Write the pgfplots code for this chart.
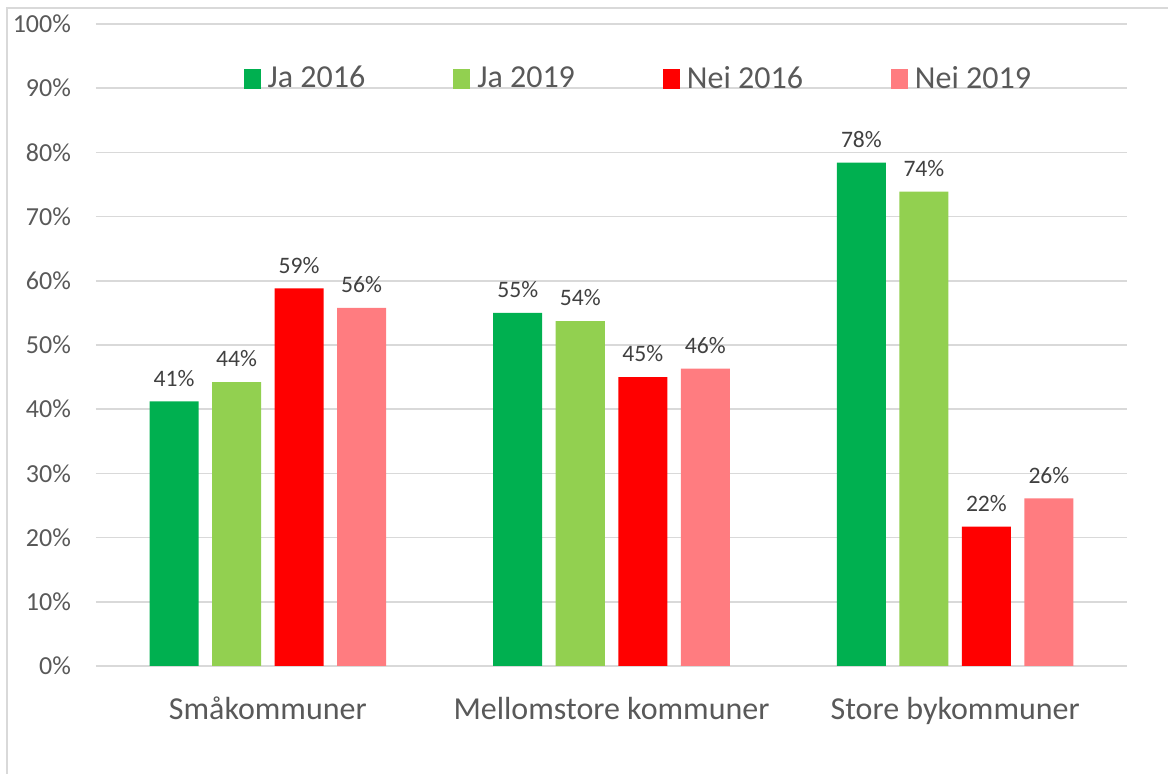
\documentclass[border=0pt]{standalone}
\usepackage{pgfplots}
\pgfplotsset{compat=1.18}
\usepackage{fontspec}
\setmainfont{Carlito}
\definecolor{gA}{HTML}{00B050}
\definecolor{gB}{HTML}{92D050}
\definecolor{rA}{HTML}{FF0000}
\definecolor{rB}{HTML}{FF7C80}
\definecolor{txt}{HTML}{595959}
\definecolor{lbl}{HTML}{404040}
\definecolor{grd}{HTML}{D9D9D9}
\begin{document}
\begin{tikzpicture}
\useasboundingbox (-48pt,-54pt) rectangle (536pt,333pt);
\draw[grd, line width=0.75pt] (-44.5pt,-60pt) -- (-44.5pt,329pt) -- (540pt,329pt);
\begin{axis}[
  at={(0,0)}, anchor=south west,
  scale only axis,
  width=515.5pt, height=321pt,
  ybar=6.75pt, bar width=24.5pt,
  xmin=-0.5, xmax=2.5,
  ymin=0, ymax=100,
  ytick={0,10,...,100},
  yticklabel={\pgfmathprintnumber{\tick}\%},
  /pgf/number format/assume math mode=true,
  xtick={0,1,2},
  xticklabels={Småkommuner, Mellomstore kommuner, Store bykommuner},
  axis line style={draw=none},
  major tick length=0pt,
  ymajorgrids,
  grid style={grd, line width=0.75pt},
  yticklabel style={font=\fontsize{13}{15}\selectfont, text=txt, xshift=-9pt},
  xticklabel style={font=\fontsize{16}{19}\selectfont, text=txt, yshift=-12pt},
  nodes near coords={\pgfmathprintnumber[fixed,precision=0]{\pgfplotspointmeta}\%},
  nodes near coords style={font=\fontsize{11.8}{14}\selectfont, text=lbl, yshift=4pt},
  legend style={at={(0.527,0.915)}, anchor=center, draw=none, fill=none,
    font=\fontsize{16}{19}\selectfont, text=txt, legend columns=4,
    /tikz/every even column/.append style={column sep=42pt}},
  legend image code/.code={\fill[#1] (0pt,-5pt) rectangle (8.5pt,5pt);},
  legend cell align=left,
]
\addplot[draw=none, fill=gA] coordinates {(0,41.2) (1,55.0) (2,78.4)};
\addplot[draw=none, fill=gB] coordinates {(0,44.2) (1,53.7) (2,73.9)};
\addplot[draw=none, fill=rA] coordinates {(0,58.8) (1,45.0) (2,21.7)};
\addplot[draw=none, fill=rB] coordinates {(0,55.8) (1,46.3) (2,26.1)};
\legend{\hspace{1.5pt}Ja 2016, \hspace{1.5pt}Ja 2019, \hspace{1.5pt}Nei 2016, \hspace{1.5pt}Nei 2019}
\end{axis}
\end{tikzpicture}
\end{document}
